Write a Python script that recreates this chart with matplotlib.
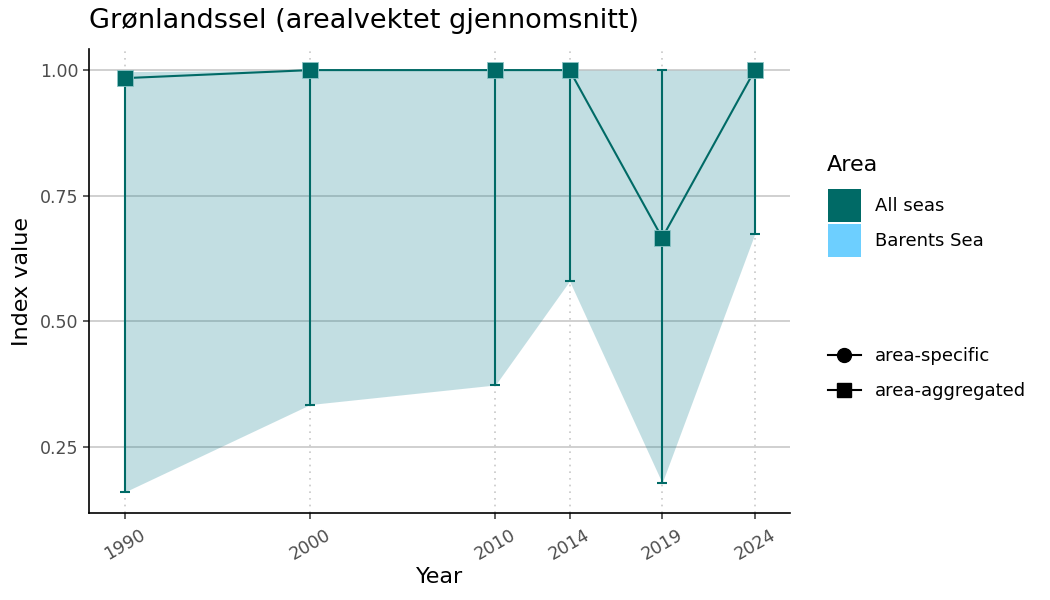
import matplotlib.pyplot as plt
from matplotlib.patches import Patch
from matplotlib.lines import Line2D

years = [1990, 2000, 2010, 2014, 2019, 2024]
index_mean = [0.984, 1.0, 1.0, 1.0, 0.666, 1.0]
index_low = [0.160, 0.334, 0.373, 0.580, 0.178, 0.674]
index_high = [0.997, 1.0, 1.0, 1.0, 1.0, 1.0]
area_names = ["All seas", "Barents Sea"]
area_colors = ["#006a66", "#6dcfff"]
shape_names = ["area-specific", "area-aggregated"]

line_col = "#006a66"

fig = plt.figure(figsize=(10.5, 6), dpi=100)
ax = fig.add_axes([89 / 1050, 1 - 513 / 600, 701 / 1050, 464 / 600])

# ribbon
ax.fill_between(years, index_low, index_high, color="#0f7f8f", alpha=0.25,
                linewidth=0, zorder=2)

# error bars
lower_err = [m - l for m, l in zip(index_mean, index_low)]
upper_err = [h - m for m, h in zip(index_mean, index_high)]
ax.errorbar(years, index_mean, yerr=[lower_err, upper_err], fmt="none",
            ecolor=line_col, elinewidth=1.5, capsize=3.3, capthick=1.5, zorder=3)
ax.plot(years, index_mean, color=line_col, linewidth=1.5, zorder=4)
ax.plot(years, index_mean, linestyle="none", marker="s", markersize=11.5,
        markerfacecolor=line_col, markeredgecolor="#8cc4c6",
        markeredgewidth=0.6, zorder=5)

ax.set_xlim(1988.06, 2025.9)
ax.set_ylim(0.118, 1.042)
ax.set_xticks(years)
ax.set_xticklabels([str(y) for y in years], rotation=30)
ax.set_yticks([0.25, 0.5, 0.75, 1.0])
ax.set_yticklabels(["0.25", "0.50", "0.75", "1.00"])

ax.grid(axis="y", color="#c8c8c8", linewidth=1.2, zorder=1)
ax.grid(axis="x", color="#c8c8c8", linewidth=1.2, linestyle=(0, (1, 3)), zorder=1)
ax.set_axisbelow(True)

for s in ["top", "right"]:
    ax.spines[s].set_visible(False)
for s in ["left", "bottom"]:
    ax.spines[s].set_linewidth(1.2)
    ax.spines[s].set_color("black")
ax.tick_params(axis="both", colors="#333333", labelsize=12.5, length=4, width=1.1,
               labelcolor="#4d4d4d")
ax.tick_params(axis="x", pad=5)

ax.set_xlabel("Year", fontsize=16, labelpad=3)
ax.set_ylabel("Index value", fontsize=16, labelpad=6)
fig.text(89 / 1050, 1 - 21 / 600, "Grønlandssel (arealvektet gjennomsnitt)",
         fontsize=19.5, va="center", ha="left")

# legends
fig.text(827 / 1050, 1 - 165 / 600, "Area", fontsize=16, va="center", ha="left")
area_handles = [Patch(facecolor=c, edgecolor="none") for c in area_colors]
fig.legend(area_handles, area_names, loc="upper left",
           bbox_to_anchor=(821 / 1050, 1 - 182 / 600), frameon=False,
           fontsize=13, handlelength=1.8,
           handleheight=2.4, labelspacing=0.12,
           handletextpad=0.8, borderaxespad=0)
shape_handles = [
    Line2D([], [], color="black", marker="o", markersize=10, linewidth=1.5),
    Line2D([], [], color="black", marker="s", markersize=10, linewidth=1.5),
]
fig.legend(shape_handles, shape_names, loc="upper left",
           bbox_to_anchor=(821 / 1050, 1 - 340 / 600), frameon=False,
           fontsize=13, handlelength=1.8, labelspacing=0.95, handletextpad=0.8,
           borderaxespad=0)

fig.savefig("out.png", dpi=100)
